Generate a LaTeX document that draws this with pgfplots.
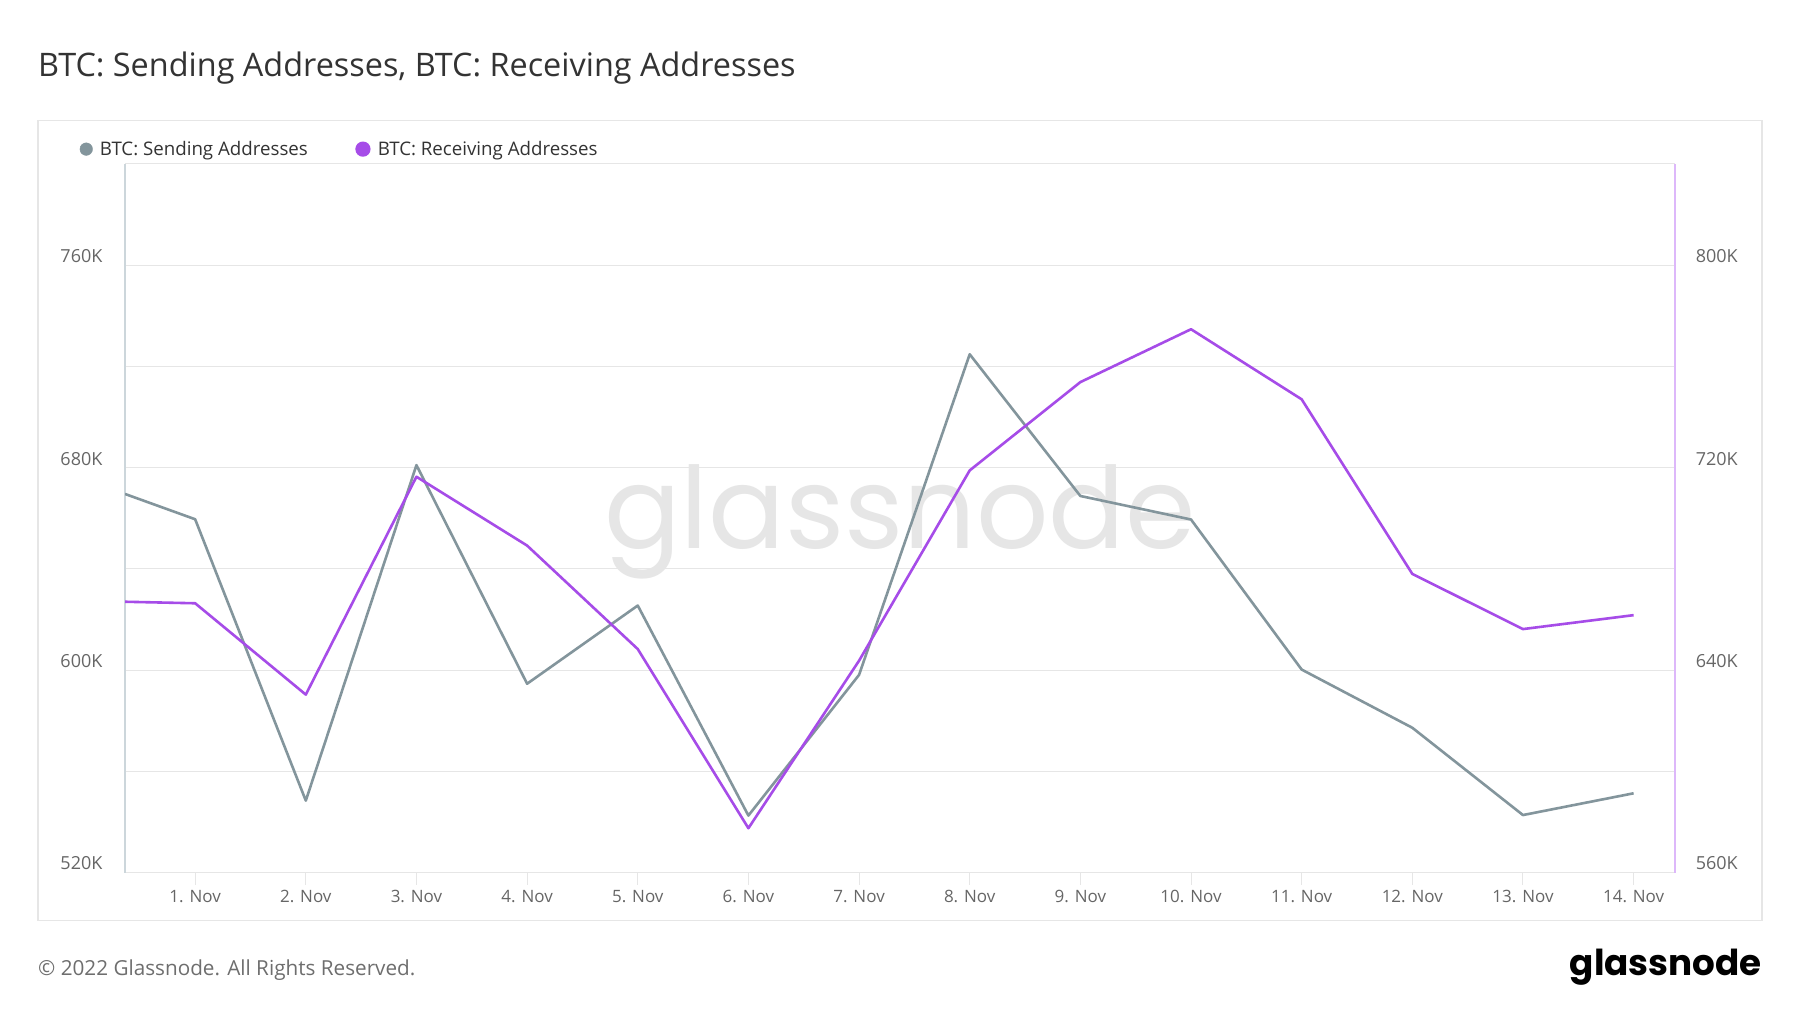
\documentclass[border=0pt]{standalone}
\usepackage{fontspec}
\setmainfont{Open Sans}
\newfontfamily\logofont{Poppins}
\usepackage{graphicx}
\usepackage{pgfplots}
\usepackage{pgfplotstable}
\pgfplotsset{compat=1.18}
\definecolor{sendc}{HTML}{83959C}
\definecolor{recvc}{HTML}{A64CE8}
\definecolor{raxis}{HTML}{DDB8FA}
\definecolor{laxis}{HTML}{CCD6DB}
\definecolor{gridc}{HTML}{E6E6E6}
\definecolor{tickc}{HTML}{666666}
\definecolor{titlec}{HTML}{333333}
\definecolor{footc}{HTML}{6E6E6E}

\pgfplotstableread{
x y
0.366 669.6
1 659.6
2 548.4
3 681.0
4 594.6
5 625.5
6 542.5
7 598.1
8 724.8
9 668.8
10 659.5
11 600.2
12 577.2
13 542.7
14 551.3
}\sending

\pgfplotstableread{
x y
0.366 667.0
1 666.4
2 630.3
3 716.4
4 689.2
5 648.3
6 577.5
7 643.7
8 718.9
9 753.8
10 774.7
11 747.0
12 678.0
13 656.2
14 661.7
}\receiving

\pgfplotsset{
  common/.style={
    at={(125pt,140.5pt)}, anchor=south west,
    width=1550pt, height=708.5pt, scale only axis,
    xmin=0.366, xmax=14.374,
    tick label style={font=\fontsize{17}{20}\selectfont, text=tickc},
    yticklabel style={font=\fontsize{18}{20}\selectfont},
    /pgf/number format/assume math mode=true,
  },
}

\begin{document}
\begin{tikzpicture}[x=1pt,y=1pt]
\useasboundingbox (0,0) rectangle (1800,1013);
\fill[white] (0,0) rectangle (1800,1013);
\draw[gridc, line width=1.5pt] (38,92.3) rectangle (1762,892.5);
\node[anchor=west, inner sep=0pt, text=titlec, font=\fontsize{32.4}{36}\selectfont] at (38,945) {BTC: Sending Addresses, BTC: Receiving Addresses};
\node[anchor=center, inner sep=0pt, text=gridc] at (900,491) {\resizebox{591pt}{!}{\logofont glassnode}};

\begin{axis}[common,
  ymin=520, ymax=800,
  axis x line*=bottom, axis y line*=left,
  x axis line style={draw=gridc, line width=1.2pt, -},
  y axis line style={draw=laxis, line width=1.2pt, -},
  xtick={1,...,14},
  xticklabels={1. Nov,2. Nov,3. Nov,4. Nov,5. Nov,6. Nov,7. Nov,8. Nov,9. Nov,10. Nov,11. Nov,12. Nov,13. Nov,14. Nov},
  xtick style={draw=gridc, line width=1pt},
  tick align=outside,
  major tick length=12pt,
  minor tick length=0pt,
  xticklabel style={anchor=center, inner sep=0pt, yshift=-12pt},
  ytick={520,600,680,760},
  yticklabels={520K,600K,680K,760K},
  minor ytick={560,640,720,800},
  ytick style={draw=none},
  yticklabel style={anchor=east, inner sep=0pt, xshift=-10.4pt, yshift=9pt},
  ymajorgrids, yminorgrids,
  major grid style={draw=gridc, line width=1pt},
  minor grid style={draw=gridc, line width=1pt},
]
\addplot[sendc, line width=2.6pt, line join=round] table[x=x,y=y] {\sending};
\end{axis}

\begin{axis}[common,
  ymin=560, ymax=840,
  axis x line=none, axis y line*=right,
  y axis line style={draw=raxis, line width=1.2pt, -},
  ytick={560,640,720,800},
  yticklabels={560K,640K,720K,800K},
  ytick style={draw=none},
  major tick length=0pt,
  yticklabel style={anchor=west, inner sep=0pt, xshift=20.6pt, yshift=9pt},
  legend columns=2,
  legend style={at={(-0.0292,1.0210)}, anchor=west, draw=none, fill=none, inner sep=0pt, outer sep=0pt,
    font=\fontsize{18.7}{22}\selectfont, text=titlec,
    /tikz/every even column/.append style={column sep=45.5pt}},
  legend cell align=left,
  legend image code/.code={\fill[#1] (6.3pt,0pt) circle (6.3pt); \path (0pt,0pt) (17.8pt,0pt);},
]
\addlegendimage{sendc, fill=sendc}
\addlegendentry{BTC: Sending Addresses}
\addplot[recvc, line width=2.6pt, line join=round, fill=none] table[x=x,y=y] {\receiving};
\addlegendentry{BTC: Receiving Addresses}
\end{axis}

\node[anchor=west, inner sep=0pt, text=footc, font=\fontsize{20.7}{24}\selectfont] at (38,43) {© 2022 Glassnode. All Rights Reserved.};
\node[anchor=east, inner sep=0pt] at (1762,45.5) {\resizebox{192pt}{!}{\logofont\bfseries glassnode}};
\end{tikzpicture}
\end{document}
